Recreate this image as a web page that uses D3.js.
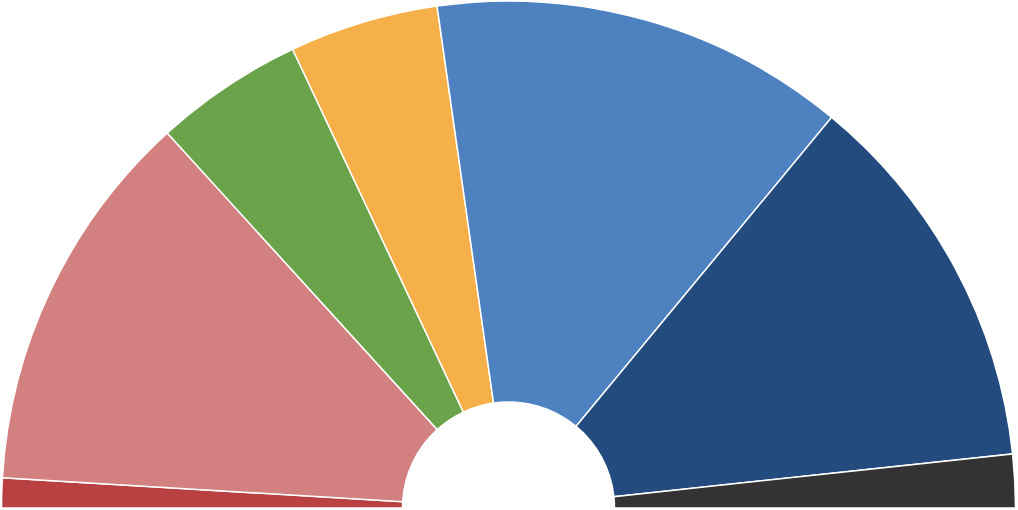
<!DOCTYPE html>
<html>
<head>
<meta charset="utf-8">
<script src="https://cdn.jsdelivr.net/npm/d3@7"></script>
<style>
  html, body { margin: 0; padding: 0; background: #fff; overflow: hidden; }
</style>
</head>
<body>
<div id="chart"></div>
<script>
// share of each group, left to right
const parties = ["A", "B", "C", "D", "E", "F", "G"];
const shares = [1.9, 24.6, 9.5, 9.5, 26.5, 24.6, 3.4];
const colors = ["#b94142", "#d38080", "#6aa349", "#f5b049", "#4e81c0", "#234b7e", "#333333"];

const width = 1018, height = 510;
const cx = 508.5, cy = 508;
const outerR = 507, innerR = 106;

const svg = d3.select("#chart").append("svg")
    .attr("width", width)
    .attr("height", height);

const g = svg.append("g")
    .attr("transform", "translate(" + cx + "," + cy + ")");

const data = parties.map(function(p, i) { return { party: p, value: shares[i], color: colors[i] }; });

const pie = d3.pie()
    .sort(null)
    .value(function(d) { return d.value; })
    .startAngle(-Math.PI / 2)
    .endAngle(Math.PI / 2);

const arc = d3.arc()
    .innerRadius(innerR)
    .outerRadius(outerR);

g.selectAll("path")
    .data(pie(data))
    .enter().append("path")
    .attr("d", arc)
    .attr("fill", function(d) { return d.data.color; })
    .attr("stroke", "#fff")
    .attr("stroke-width", 1.5);
</script>
</body>
</html>
